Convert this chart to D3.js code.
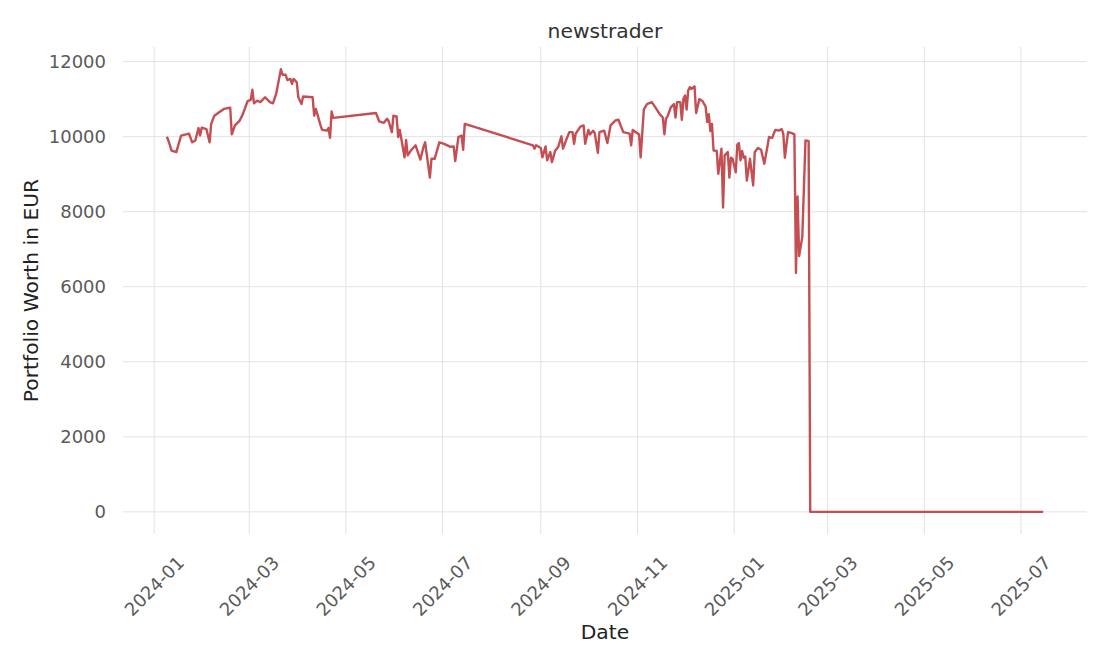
<!DOCTYPE html>
<html>
<head>
<meta charset="utf-8">
<script src="https://cdn.jsdelivr.net/npm/d3@7"></script>
<style>
  body { margin: 0; background: #fff; }
  text { font-family: "DejaVu Sans", sans-serif; }
</style>
</head>
<body>
<script>
// portfolio worth of the newstrader bot
var dates = [
  "2024-01-09","2024-01-10","2024-01-12","2024-01-15","2024-01-18","2024-01-23","2024-01-25","2024-01-27","2024-01-29","2024-01-30","2024-01-31",
  "2024-02-03","2024-02-05","2024-02-06","2024-02-08","2024-02-11","2024-02-14","2024-02-18","2024-02-19","2024-02-21","2024-02-24","2024-02-26","2024-02-29",
  "2024-03-02","2024-03-03","2024-03-04","2024-03-06","2024-03-08","2024-03-11","2024-03-14","2024-03-16","2024-03-18","2024-03-21","2024-03-22","2024-03-24","2024-03-25","2024-03-27","2024-03-28","2024-03-29","2024-03-31",
  "2024-04-01","2024-04-03","2024-04-04","2024-04-10","2024-04-11","2024-04-12","2024-04-13","2024-04-15","2024-04-16","2024-04-19","2024-04-20","2024-04-21","2024-04-22","2024-04-23",
  "2024-05-20","2024-05-22","2024-05-25","2024-05-27","2024-05-28","2024-05-30","2024-05-31",
  "2024-06-02","2024-06-03","2024-06-04","2024-06-05","2024-06-07","2024-06-08","2024-06-09","2024-06-11","2024-06-14","2024-06-17","2024-06-19","2024-06-20","2024-06-23","2024-06-24","2024-06-26","2024-06-29",
  "2024-07-02","2024-07-06","2024-07-08","2024-07-09","2024-07-11","2024-07-13","2024-07-14","2024-07-15",
  "2024-08-27","2024-08-28","2024-08-29",
  "2024-09-01","2024-09-02","2024-09-04","2024-09-05","2024-09-07","2024-09-08","2024-09-10","2024-09-12","2024-09-14","2024-09-15","2024-09-17","2024-09-19","2024-09-21","2024-09-22","2024-09-23","2024-09-26","2024-09-28","2024-09-29",
  "2024-10-01","2024-10-02","2024-10-04","2024-10-05","2024-10-07","2024-10-08","2024-10-11","2024-10-13","2024-10-15","2024-10-18","2024-10-20","2024-10-23","2024-10-25","2024-10-27","2024-10-28","2024-10-29","2024-10-31",
  "2024-11-02","2024-11-03","2024-11-05","2024-11-07","2024-11-10","2024-11-12","2024-11-15","2024-11-17","2024-11-18","2024-11-19","2024-11-20","2024-11-22","2024-11-24","2024-11-25","2024-11-26","2024-11-28","2024-11-29","2024-11-30",
  "2024-12-01","2024-12-02","2024-12-03","2024-12-04","2024-12-05","2024-12-07","2024-12-08","2024-12-10","2024-12-12","2024-12-14","2024-12-15","2024-12-16","2024-12-17","2024-12-18","2024-12-19","2024-12-21","2024-12-22","2024-12-24","2024-12-25","2024-12-26","2024-12-28","2024-12-29","2024-12-30","2024-12-31",
  "2025-01-02","2025-01-03","2025-01-04","2025-01-05","2025-01-06","2025-01-07","2025-01-08","2025-01-09","2025-01-11","2025-01-13","2025-01-14","2025-01-16","2025-01-18","2025-01-20","2025-01-22","2025-01-23","2025-01-25","2025-01-27","2025-01-29","2025-01-31",
  "2025-02-01","2025-02-02","2025-02-04","2025-02-06","2025-02-08","2025-02-09","2025-02-10","2025-02-11","2025-02-13","2025-02-15","2025-02-17","2025-02-18",
  "2025-07-15"
];
var worth = [
  10000,9900,9630,9590,10030,10080,9850,9900,10230,10030,10240,
  10200,9850,10340,10560,10650,10740,10770,10060,10300,10430,10600,10950,
  10980,11250,10890,10960,10920,11050,10920,10890,11140,11800,11650,11650,11510,11540,11410,11540,11450,
  11050,10870,11070,11050,10560,10740,10600,10300,10180,10160,10230,9970,10670,10500,
  10630,10410,10370,10480,10410,10120,10560,
  10540,9990,10180,9940,9450,9910,9500,9630,9770,9390,9730,9850,8910,9410,9410,9850,
  9810,9730,9740,9350,9990,10030,9650,10340,
  9770,9680,9770,
  9700,9450,9740,9370,9590,9320,9620,9730,10010,9680,9910,10120,10120,9810,10080,10270,10300,9810,
  10180,10060,10160,10100,9570,10120,10160,9830,10300,10430,10450,10120,10100,10080,9770,10180,10120,
  10060,9450,10720,10870,10920,10800,10600,10510,10060,10480,10540,10780,10870,10510,10920,10920,10450,11010,
  11100,10720,11230,11320,11270,11340,10630,11000,10950,10800,10390,10600,10150,10340,9630,9620,9010,9680,8110,9500,9590,8910,9440,9410,
  9050,9790,9830,9370,9620,9440,9470,8830,9410,8700,9590,9700,9650,9280,9740,9990,9970,10180,10160,10200,
  10080,9440,10120,10100,10060,6370,8410,6820,7330,9900,9880,0,
  0
];

var xTicks = ["2024-01","2024-03","2024-05","2024-07","2024-09","2024-11","2025-01","2025-03","2025-05","2025-07"];
var yTicks = [0, 2000, 4000, 6000, 8000, 10000, 12000];

var width = 1110;
var height = 666;
var plotLeft = 123, plotRight = 1087, plotTop = 47, plotBottom = 534;

var parse = d3.timeParse("%Y-%m-%d");
var parseMonth = d3.timeParse("%Y-%m");
var data = dates.map(function(d, i) { return { date: parse(d), value: worth[i] }; });

var svg = d3.select("body")
  .append("svg")
    .attr("width", width)
    .attr("height", height)
    .style("background-color", "#fff");

// matplotlib style 5% margins
var xExt = d3.extent(data, function(d) { return d.date; });
var xPad = (xExt[1] - xExt[0]) * 0.05;
var x = d3.scaleTime()
  .domain([new Date(+xExt[0] - xPad), new Date(+xExt[1] + xPad)])
  .range([plotLeft, plotRight]);

var yExt = d3.extent(data, function(d) { return d.value; });
var yPad = (yExt[1] - yExt[0]) * 0.05;
var y = d3.scaleLinear()
  .domain([yExt[0] - yPad, yExt[1] + yPad])
  .range([plotBottom, plotTop]);

// grid
svg.append("g")
  .selectAll("line")
  .data(yTicks)
  .enter()
  .append("line")
    .attr("x1", plotLeft)
    .attr("x2", plotRight)
    .attr("y1", function(d) { return y(d); })
    .attr("y2", function(d) { return y(d); })
    .attr("stroke", "#e2e2e2")
    .attr("stroke-width", 1);

svg.append("g")
  .selectAll("line")
  .data(xTicks)
  .enter()
  .append("line")
    .attr("x1", function(d) { return x(parseMonth(d)); })
    .attr("x2", function(d) { return x(parseMonth(d)); })
    .attr("y1", plotTop)
    .attr("y2", plotBottom)
    .attr("stroke", "#e2e2e2")
    .attr("stroke-width", 1);

// tick labels
svg.append("g")
  .selectAll("text")
  .data(yTicks)
  .enter()
  .append("text")
    .attr("x", 106)
    .attr("y", function(d) { return y(d); })
    .attr("dy", "0.36em")
    .attr("text-anchor", "end")
    .attr("fill", "#5a5a5a")
    .style("font-size", "18px")
    .text(function(d) { return d; });

svg.append("g")
  .selectAll("text")
  .data(xTicks)
  .enter()
  .append("text")
    .attr("transform", function(d) { return "translate(" + x(parseMonth(d)) + ",586) rotate(-45)"; })
    .attr("dy", "0.36em")
    .attr("text-anchor", "middle")
    .attr("fill", "#5a5a5a")
    .style("font-size", "18px")
    .text(function(d) { return d; });

// the line
var line = d3.line()
  .x(function(d) { return x(d.date); })
  .y(function(d) { return y(d.value); });

svg.append("path")
  .datum(data)
  .attr("d", line)
  .attr("fill", "none")
  .attr("stroke", "#c44e52")
  .attr("stroke-width", 2.4)
  .attr("stroke-linejoin", "round");

// labels
svg.append("text")
  .attr("x", (plotLeft + plotRight) / 2)
  .attr("y", 31)
  .attr("dy", "0.36em")
  .attr("text-anchor", "middle")
  .attr("fill", "#333")
  .style("font-size", "20.3px")
  .text("newstrader");

svg.append("text")
  .attr("x", (plotLeft + plotRight) / 2)
  .attr("y", 632)
  .attr("dy", "0.36em")
  .attr("text-anchor", "middle")
  .attr("fill", "#222")
  .style("font-size", "20.3px")
  .text("Date");

svg.append("text")
  .attr("transform", "translate(31," + (plotTop + plotBottom) / 2 + ") rotate(-90)")
  .attr("dy", "0.36em")
  .attr("text-anchor", "middle")
  .attr("fill", "#222")
  .style("font-size", "20.3px")
  .text("Portfolio Worth in EUR");
</script>
</body>
</html>
